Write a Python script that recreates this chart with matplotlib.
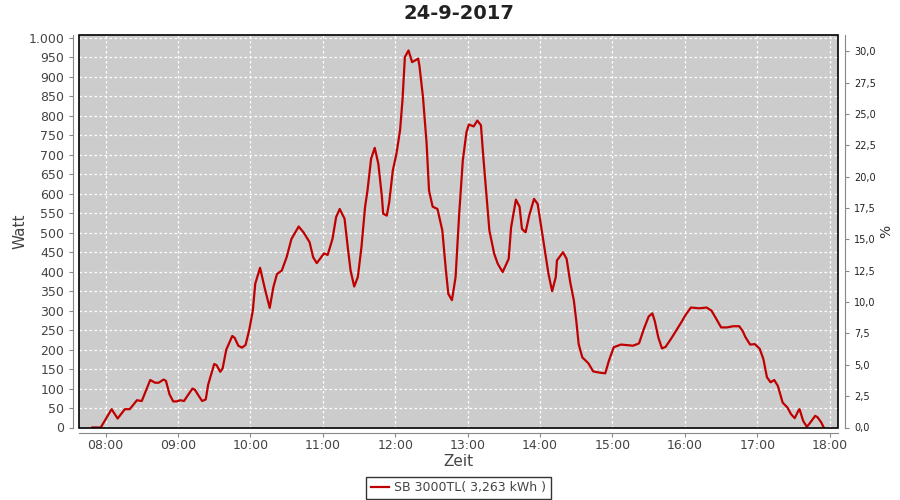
import matplotlib
matplotlib.use("Agg")
import matplotlib.pyplot as plt
import matplotlib.dates as mdates
from matplotlib.ticker import FuncFormatter, MultipleLocator
from matplotlib.patches import Rectangle
import pandas as pd

zeiten = [
    "07:49", "07:56", "08:05", "08:10", "08:16", "08:20", "08:26", "08:30", "08:37", "08:41",
    "08:44", "08:48", "08:50", "08:53", "08:56", "08:59", "09:02", "09:05", "09:08", "09:12",
    "09:14", "09:17", "09:20", "09:23", "09:25", "09:30", "09:32", "09:35", "09:37", "09:40",
    "09:45", "09:47", "09:50", "09:53", "09:56", "09:59", "10:02", "10:04", "10:08", "10:12",
    "10:16", "10:19", "10:22", "10:26", "10:30", "10:34", "10:40", "10:44", "10:49", "10:52",
    "10:55", "11:01", "11:04", "11:08", "11:11", "11:14", "11:18", "11:21", "11:23", "11:26",
    "11:29", "11:32", "11:35", "11:37", "11:40", "11:43", "11:46", "11:49", "11:50", "11:53",
    "11:55", "11:58", "12:01", "12:04", "12:06", "12:08", "12:11", "12:14", "12:19", "12:20",
    "12:23", "12:26", "12:28", "12:31", "12:35", "12:39", "12:42", "12:44", "12:47", "12:50",
    "12:53", "12:56", "12:59", "13:01", "13:05", "13:08", "13:11", "13:13", "13:16", "13:18",
    "13:22", "13:25", "13:29", "13:34", "13:36", "13:40", "13:43", "13:45", "13:48", "13:51",
    "13:55", "13:58", "14:01", "14:04", "14:07", "14:10", "14:13", "14:14", "14:19", "14:22",
    "14:25", "14:28", "14:30", "14:32", "14:35", "14:40", "14:44", "14:49", "14:54", "14:57",
    "15:01", "15:07", "15:17", "15:22", "15:26", "15:30", "15:33", "15:35", "15:38", "15:41",
    "15:44", "15:49", "15:53", "15:57", "16:01", "16:05", "16:12", "16:18", "16:22", "16:26",
    "16:30", "16:35", "16:40", "16:45", "16:48", "16:50", "16:54", "16:58", "17:02", "17:05",
    "17:08", "17:11", "17:14", "17:17", "17:21", "17:25", "17:28", "17:31", "17:34", "17:35",
    "17:38", "17:41", "17:43", "17:48", "17:50", "17:53", "17:55",
]
watt = [
    0, 0, 47, 23, 47, 47, 70, 68, 122, 115,
    115, 123, 120, 85, 67, 67, 70, 68, 82, 100,
    97, 82, 68, 72, 110, 163, 160, 143, 152, 200,
    235, 230, 210, 205, 212, 250, 300, 369, 410, 356,
    307, 360, 394, 403, 437, 484, 516, 501, 476, 437,
    422, 447, 443, 484, 540, 561, 536, 454, 403, 362,
    386, 463, 566, 608, 690, 718, 677, 591, 549, 544,
    578, 660, 703, 763, 840, 951, 968, 938, 947, 930,
    848, 729, 608, 567, 561, 506, 403, 343, 327, 386,
    549, 686, 758, 778, 773, 788, 776, 694, 583, 506,
    446, 420, 399, 433, 514, 585, 567, 510, 501, 544,
    587, 574, 514, 454, 394, 350, 386, 429, 450, 433,
    373, 326, 274, 214, 180, 165, 144, 141, 139, 171,
    206, 213, 210, 216, 253, 285, 293, 274, 231, 203,
    207, 230, 250, 270, 291, 308, 306, 308, 300, 279,
    257, 257, 260, 260, 247, 233, 213, 214, 202, 176,
    129, 116, 122, 107, 64, 51, 34, 24, 43, 47,
    17, 2, 9, 30, 26, 13, 0,
]

titel = "24-9-2017"
legende = "SB 3000TL( 3,263 kWh )"
datum = "2017-09-24 "

t = pd.to_datetime([datum + z for z in zeiten])

fig = plt.figure(figsize=(9, 5), dpi=100)
ax = fig.add_axes([0.0878, 0.145, 0.8435, 0.786])
ax.set_facecolor("#cccccc")

ax.plot(t, watt, color="#c00000", lw=1.6, label=legende)

ax.set_xlim(pd.Timestamp(datum + "07:38"), pd.Timestamp(datum + "18:07"))
ax.set_ylim(0, 1009)

ax.xaxis.set_major_locator(mdates.HourLocator())
ax.xaxis.set_major_formatter(mdates.DateFormatter("%H:%M"))
ax.yaxis.set_major_locator(MultipleLocator(50))
ax.yaxis.set_major_formatter(FuncFormatter(lambda v, p: f"{int(v):,}".replace(",", ".")))

ax.grid(True, color="white", linestyle=(0, (2, 2)), lw=0.9)
ax.set_axisbelow(True)

# Achsen leicht nach aussen versetzt, wie bei JFreeChart
for s in ["left", "bottom", "right"]:
    ax.spines[s].set_position(("outward", 4))
    ax.spines[s].set_color("#888888")
ax.spines["top"].set_visible(False)
ax.spines["right"].set_visible(False)
ax.add_patch(Rectangle((0, 0), 1, 1, transform=ax.transAxes, fill=False,
                       edgecolor="black", lw=1.2, clip_on=False, zorder=5))

ax.tick_params(axis="both", colors="#888888", labelcolor="#444444", labelsize=9, length=3)
ax.tick_params(axis="x", pad=1.5)

ax2 = ax.twinx()
ax2.set_ylim(0, 31.34)
ax2.yaxis.set_major_locator(MultipleLocator(2.5))
ax2.yaxis.set_major_formatter(FuncFormatter(lambda v, p: f"{v:.1f}".replace(".", ",")))
for s in ["left", "top", "bottom"]:
    ax2.spines[s].set_visible(False)
ax2.spines["right"].set_position(("outward", 5))
ax2.spines["right"].set_color("#888888")
ax2.tick_params(axis="y", colors="#888888", labelcolor="#222222", labelsize=7, length=3)
ax2.set_ylabel("%", fontsize=10, color="#333333", labelpad=2)

ax.set_title(titel, fontsize=14, fontweight="bold", color="#222222", pad=11)
ax.set_ylabel("Watt", fontsize=11, color="#444444", labelpad=1)
ax.set_xlabel("Zeit", fontsize=11, color="#444444", labelpad=1)

leg = ax.legend(loc="upper center", bbox_to_anchor=(0.5, -0.11), frameon=True,
                fancybox=False, fontsize=9, handlelength=1.5, handletextpad=0.4,
                borderpad=0.35, labelcolor="#444444")
leg.get_frame().set_edgecolor("black")
leg.get_frame().set_linewidth(1.0)

fig.savefig("out.png", dpi=100)
